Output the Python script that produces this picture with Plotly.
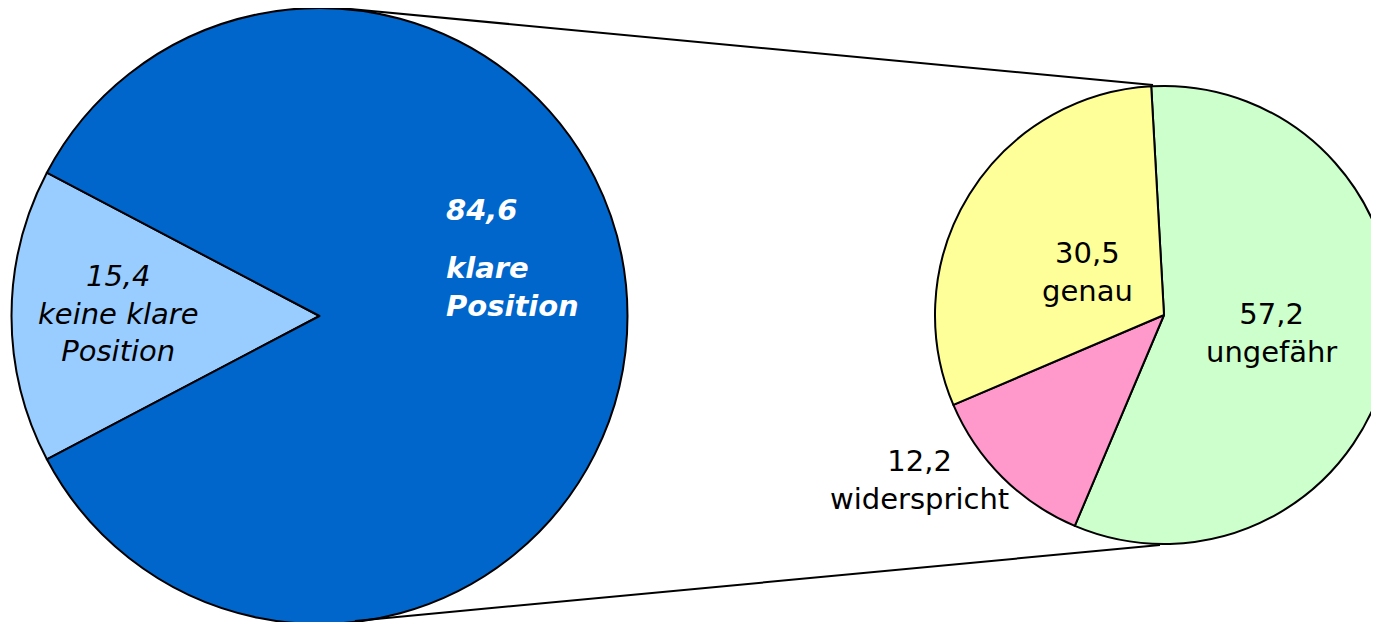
import plotly.graph_objects as go

W, H = 1400, 640
OFF = 8  # page body margin

# main pie
main_labels = ["keine klare Position", "klare Position"]
main_values = [15.4, 84.6]
main_colors = ["#99CCFF", "#0066CC"]

# breakdown of "klare Position"
sub_labels = ["ungefähr", "widerspricht", "genau"]
sub_values = [57.2, 12.2, 30.5]
sub_colors = ["#CCFFCC", "#FF99CC", "#FFFF99"]


def fx(x):
    return (x - OFF) / W


def fy(y):
    return 1 - (y - OFF) / H


def fmt(v):
    return f"{v:.1f}".replace(".", ",")


fig = go.Figure()

fig.add_trace(go.Pie(
    labels=main_labels,
    values=main_values,
    sort=False,
    direction="clockwise",
    rotation=270 - main_values[0] / sum(main_values) * 180,
    marker=dict(colors=main_colors, line=dict(color="black", width=2)),
    textinfo="none",
    hoverinfo="label+value",
    domain=dict(x=[fx(11.5), fx(627.5)], y=[fy(624), fy(8)]),
))

fig.add_trace(go.Pie(
    labels=sub_labels,
    values=sub_values,
    sort=False,
    direction="clockwise",
    rotation=-3.2,
    marker=dict(colors=sub_colors, line=dict(color="black", width=2)),
    textinfo="none",
    hoverinfo="label+value",
    domain=dict(x=[fx(935), fx(1393)], y=[fy(544), fy(86)]),
))

# connector lines between the two pies
for x0, y0, x1, y1 in [(345, 8.5, 1153, 85), (355, 621, 1160, 545)]:
    fig.add_shape(type="line", xref="paper", yref="paper",
                  x0=fx(x0), y0=fy(y0), x1=fx(x1), y1=fy(y1),
                  line=dict(color="black", width=2))

# label placement (pixel centres)
font = "DejaVu Sans"
a, b = main_labels[0].rsplit(" ", 1)
fig.add_annotation(text=f"<i>{fmt(main_values[0])}<br>{a}<br>{b}</i>",
                   x=fx(119), y=fy(313), xanchor="center",
                   font=dict(color="black"))
fig.add_annotation(text=f"<b><i>{fmt(main_values[1])}</i></b>",
                   x=fx(444), y=fy(210), xanchor="left",
                   font=dict(color="white"))
a, b = main_labels[1].rsplit(" ", 1)
fig.add_annotation(text=f"<b><i>{a}<br>{b}</i></b>", align="left",
                   x=fx(444), y=fy(287), xanchor="left",
                   font=dict(color="white"))

sub_pos = {"ungefähr": (1271, 333), "widerspricht": (919, 480), "genau": (1087, 272)}
for lab, v in zip(sub_labels, sub_values):
    x, y = sub_pos[lab]
    fig.add_annotation(text=f"{fmt(v)}<br>{lab}", x=fx(x), y=fy(y),
                       xanchor="center", font=dict(color="black"))

fig.update_annotations(xref="paper", yref="paper", yanchor="middle",
                       showarrow=False)
fig.update_layout(
    width=W,
    height=H,
    margin=dict(l=0, r=0, t=0, b=0),
    showlegend=False,
    paper_bgcolor="white",
    plot_bgcolor="white",
    font=dict(family=font, size=29, color="black"),
)

fig.write_html("out.html")
